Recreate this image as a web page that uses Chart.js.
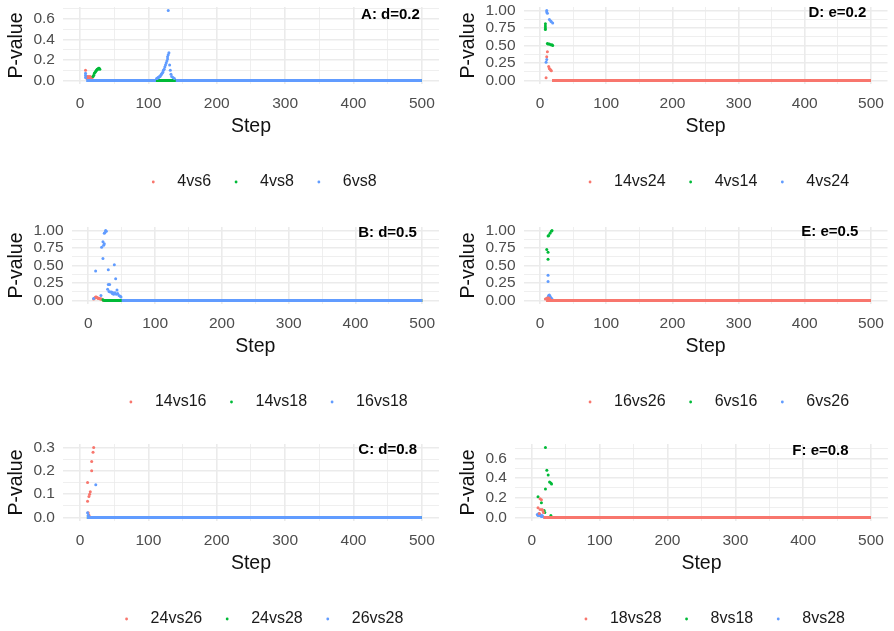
<!DOCTYPE html>
<html>
<head>
<meta charset="utf-8">
<script src="https://cdn.jsdelivr.net/npm/chart.js@4.4.1/dist/chart.umd.min.js"></script>
<style>
  html, body { margin: 0; padding: 0; background: #fff; overflow: hidden; width: 894px; height: 631px; }
  .panel { position: absolute; width: 447px; height: 202px; }
  .panel canvas { display: block; }
</style>
</head>
<body>
<div class="panel" style="left:0;top:-2px"><canvas id="chartA" width="447" height="202"></canvas></div>
<div class="panel" style="left:447px;top:-2px"><canvas id="chartD" width="447" height="202"></canvas></div>
<div class="panel" style="left:0;top:218px"><canvas id="chartB" width="447" height="202"></canvas></div>
<div class="panel" style="left:447px;top:218px"><canvas id="chartE" width="447" height="202"></canvas></div>
<div class="panel" style="left:0;top:435px"><canvas id="chartC" width="447" height="202"></canvas></div>
<div class="panel" style="left:447px;top:435px"><canvas id="chartF" width="447" height="202"></canvas></div>
<script>
const COLORS = ['#F8766D', '#00BA38', '#619CFF'];

const xTicks = [0, 100, 200, 300, 400, 500];
const xLabels = ['0', '100', '200', '300', '400', '500'];
const xMinor = [50, 150, 250, 350, 450];

const yTicksUnit = [0, 0.25, 0.5, 0.75, 1];
const yLabelsUnit = ['0.00', '0.25', '0.50', '0.75', '1.00'];
const yMinorUnit = [0.125, 0.375, 0.625, 0.875];

const yTicksSix = [0, 0.2, 0.4, 0.6];
const yLabelsSix = ['0.0', '0.2', '0.4', '0.6'];
const yMinorSix = [0.1, 0.3, 0.5, 0.7];

const yTicksThree = [0, 0.1, 0.2, 0.3];
const yLabelsThree = ['0.0', '0.1', '0.2', '0.3'];
const yMinorThree = [0.05, 0.15, 0.25];

// points are [step, p-value]; zero runs are [first step, last step] where p sits at 0
// A: d=0.2
const namesA = ['4vs6', '4vs8', '6vs8'];
const pointsA = [
    [[8,0.10],[9,0.04],[10,0.03],[10,0.02],[11,0.04],[12,0.03],[12,0.02],[13,0.04],[14,0.03],[14,0.02],[15,0.04],[16,0.03],[16,0.02],[17,0.03],[18,0.03]],
    [[19,0.04],[20,0.05],[21,0.07],[22,0.08],[23,0.09],[24,0.10],[25,0.11],[26,0.11],[27,0.12],[28,0.12],[29,0.11]],
    [[8,0.07],[8,0.05],[8,0.03],[112,0.02],[113,0.02],[114,0.03],[115,0.03],[116,0.04],[117,0.04],[118,0.05],[119,0.06],[120,0.07],[121,0.08],[122,0.10],[123,0.11],[124,0.13],[125,0.15],[126,0.17],[127,0.19],[128,0.21],[128,0.23],[129,0.25],[130,0.27],[129,0.68],[131,0.15],[132,0.10],[133,0.06],[134,0.04],[136,0.03],[138,0.02]]
];
const zeroA = [[[19, 500]], [[30, 500]], [[9, 111], [140, 500]]];

// B: d=0.5
const namesB = ['14vs16', '14vs18', '16vs18'];
const pointsB = [
    [[8,0.02],[9,0.03],[10,0.04],[11,0.05],[12,0.05],[13,0.04],[14,0.04],[15,0.03],[16,0.03],[17,0.03],[18,0.02],[19,0.02],[20,0.02]],
    [[22,0.01],[23,0.005]],
    [[8,0.03],[11,0.42],[19,0.07],[20,0.76],[22,0.84],[22,0.60],[23,0.79],[24,0.81],[24,0.96],[25,0.97],[26,1.00],[27,0.99],[29,0.16],[30,0.23],[30,0.44],[31,0.13],[32,0.23],[33,0.12],[35,0.12],[36,0.10],[37,0.11],[38,0.09],[39,0.51],[40,0.11],[41,0.31],[42,0.09],[43,0.15],[44,0.10],[46,0.07],[48,0.06],[49,0.05]]
];
const zeroB = [[[21, 500]], [[23, 500]], [[50, 500]]];

// C: d=0.8
const namesC = ['24vs26', '24vs28', '26vs28'];
const pointsC = [
    [[11,0.15],[11,0.07],[12,0.02],[13,0.09],[13,0.01],[14,0.10],[15,0.11],[17,0.20],[17,0.24],[19,0.28],[20,0.30]],
    [],
    [[11,0.02],[12,0.01],[23,0.14]]
];
const zeroC = [[[14, 500]], [[10, 500]], [[10, 500]]];

// D: e=0.2
const namesD = ['14vs24', '4vs14', '4vs24'];
const pointsD = [
    [[9,0.04],[10,0.34],[11,0.41],[13,0.20],[14,0.17],[15,0.16],[16,0.15],[17,0.14]],
    [[8,0.81],[8,0.78],[8,0.75],[8,0.73],[11,0.53],[12,0.52],[14,0.52],[16,0.51],[18,0.51],[19,0.50]],
    [[9,0.26],[10,0.30],[10,1.00],[10,0.98],[11,0.96],[14,0.87],[16,0.85],[17,0.84],[19,0.82]]
];
const zeroD = [[[18, 500]], [[20, 500]], [[20, 500]]];

// E: e=0.5
const namesE = ['16vs26', '6vs16', '6vs26'];
const pointsE = [
    [[8,0.02],[10,0.03],[12,0.04],[14,0.03]],
    [[10,0.73],[12,0.92],[12,0.69],[12,0.59],[13,0.93],[15,0.96],[17,0.99],[18,1.00]],
    [[12,0.36],[12,0.27],[10,0.03],[12,0.05],[13,0.07],[14,0.08],[15,0.06],[16,0.04],[17,0.03],[18,0.02]]
];
const zeroE = [[[9, 500]], [[19, 500]], [[19, 500]]];

// F: e=0.8
const namesF = ['18vs28', '8vs18', '8vs28'];
const pointsF = [
    [[9,0.10],[11,0.04],[12,0.08],[12,0.19],[14,0.18],[15,0.08],[16,0.07],[17,0.05]],
    [[9,0.21],[14,0.15],[18,0.07],[19,0.05],[20,0.71],[20,0.29],[22,0.48],[24,0.43],[26,0.36],[28,0.35],[29,0.34],[28,0.02]],
    [[8,0.03],[9,0.02],[10,0.04],[11,0.02],[12,0.03],[13,0.02],[14,0.01],[15,0.02],[16,0.01]]
];
const zeroF = [[[17, 500]], [[30, 500]], [[17, 500]]];

Chart.defaults.font.family = '"Liberation Sans", Arial, Helvetica, sans-serif';

const panels = [
    { id: 'chartA', tag: 'A: d=0.2', tagAt: [497, 0.64], names: namesA, points: pointsA, zero: zeroA,
      yTicks: yTicksSix, yLabels: yLabelsSix, yMinor: yMinorSix, order: [2, 1, 0], pad: [0, 8] },
    { id: 'chartB', tag: 'B: d=0.5', tagAt: [492, 0.96], names: namesB, points: pointsB, zero: zeroB,
      yTicks: yTicksUnit, yLabels: yLabelsUnit, yMinor: yMinorUnit, order: [2, 1, 0], pad: [0, 8] },
    { id: 'chartC', tag: 'C: d=0.8', tagAt: [493, 0.29], names: namesC, points: pointsC, zero: zeroC,
      yTicks: yTicksThree, yLabels: yLabelsThree, yMinor: yMinorThree, order: [2, 1, 0], pad: [0, 8] },
    { id: 'chartD', tag: 'D: e=0.2', tagAt: [493, 0.97], names: namesD, points: pointsD, zero: zeroD,
      yTicks: yTicksUnit, yLabels: yLabelsUnit, yMinor: yMinorUnit, order: [0, 1, 2], pad: [5, 2] },
    { id: 'chartE', tag: 'E: e=0.5', tagAt: [481, 0.985], names: namesE, points: pointsE, zero: zeroE,
      yTicks: yTicksUnit, yLabels: yLabelsUnit, yMinor: yMinorUnit, order: [0, 1, 2], pad: [5, 2] },
    { id: 'chartF', tag: 'F: e=0.8', tagAt: [467, 0.68], names: namesF, points: pointsF, zero: zeroF,
      yTicks: yTicksSix, yLabels: yLabelsSix, yMinor: yMinorSix, order: [0, 2, 1], pad: [5, 2] }
];

const panelTag = {
    id: 'panelTag',
    afterDatasetsDraw(chart, args, opts) {
        const ctx = chart.ctx;
        const x = chart.scales.x.getPixelForValue(opts.at[0]);
        const y = chart.scales.y.getPixelForValue(opts.at[1]);
        ctx.save();
        ctx.font = 'bold 15px "Liberation Sans", Arial, sans-serif';
        ctx.fillStyle = '#000';
        ctx.textAlign = 'right';
        ctx.textBaseline = 'middle';
        ctx.fillText(opts.text, x, y);
        ctx.restore();
    }
};

// ggplot centres the legend a little right of the panel
const legendNudge = {
    id: 'legendNudge',
    afterLayout(chart, args, opts) {
        chart.legend.left += opts.dx;
        chart.legend.right += opts.dx;
    }
};

function tickList(major, minor) {
    return major.concat(minor).sort((a, b) => a - b).map(v => ({ value: v }));
}

function buildChart(p) {
    const datasets = [];
    p.names.forEach((name, i) => {
        datasets.push({
            label: name,
            data: p.points[i].map(d => ({ x: d[0], y: d[1] })),
            backgroundColor: COLORS[i],
            borderColor: COLORS[i],
            pointRadius: 1.5,
            pointBorderWidth: 0,
            pointHoverRadius: 0,
            showLine: false,
            order: p.order[i]
        });
        p.zero[i].forEach(run => {
            datasets.push({
                label: name,
                data: [{ x: run[0], y: 0 }, { x: run[1], y: 0 }],
                borderColor: COLORS[i],
                backgroundColor: COLORS[i],
                borderWidth: 3,
                pointRadius: 0,
                showLine: true,
                order: p.order[i]
            });
        });
    });

    // ggplot style 5% expansion around the data
    let maxP = 0;
    p.points.forEach(s => s.forEach(d => { if (d[1] > maxP) maxP = d[1]; }));
    const yMin = -0.05 * maxP;
    const yMax = 1.05 * maxP;

    const gridWidth = major => ctx => major.includes(ctx.tick.value) ? 1.6 : 0.8;

    return new Chart(document.getElementById(p.id), {
        type: 'scatter',
        data: { datasets: datasets },
        options: {
            responsive: false,
            animation: false,
            events: [],
            layout: {
                autoPadding: false,
                padding: { top: 9, bottom: 0, left: p.pad[0], right: p.pad[1] }
            },
            scales: {
                x: {
                    type: 'linear',
                    min: -25,
                    max: 525,
                    afterBuildTicks: s => { s.ticks = tickList(xTicks, xMinor); },
                    ticks: {
                        autoSkip: false,
                        maxRotation: 0,
                        padding: 10,
                        color: '#4D4D4D',
                        font: { size: 15.5 },
                        callback: v => { const k = xTicks.indexOf(v); return k < 0 ? '' : xLabels[k]; }
                    },
                    grid: { color: '#EBEBEB', lineWidth: gridWidth(xTicks), drawTicks: false },
                    border: { display: false },
                    title: { display: true, text: 'Step', color: '#111', font: { size: 19.5 }, padding: { top: -8, bottom: 19 } }
                },
                y: {
                    min: yMin,
                    max: yMax,
                    afterBuildTicks: s => { s.ticks = tickList(p.yTicks, p.yMinor); },
                    ticks: {
                        autoSkip: false,
                        padding: 8,
                        color: '#4D4D4D',
                        font: { size: 15.5, lineHeight: 0.1 },
                        callback: v => { const k = p.yTicks.indexOf(v); return k < 0 ? '' : p.yLabels[k]; }
                    },
                    grid: { color: '#EBEBEB', lineWidth: gridWidth(p.yTicks), drawTicks: false },
                    border: { display: false },
                    title: { display: true, text: 'P-value', color: '#111', font: { size: 19.5 }, padding: { top: 5, bottom: -3 } }
                }
            },
            plugins: {
                tooltip: { enabled: false },
                panelTag: { text: p.tag, at: p.tagAt },
                legendNudge: { dx: 10 },
                legend: {
                    position: 'bottom',
                    fullSize: false,
                    labels: {
                        usePointStyle: true,
                        boxHeight: 2,
                        padding: 17,
                        color: '#1A1A1A',
                        font: { size: 16 },
                        generateLabels: () => p.names.map((n, i) => ({
                            text: '\u2002' + n,
                            fillStyle: COLORS[i],
                            strokeStyle: COLORS[i],
                            fontColor: '#1A1A1A',
                            lineWidth: 0,
                            pointStyle: 'circle',
                            hidden: false,
                            datasetIndex: i
                        }))
                    }
                }
            }
        },
        plugins: [panelTag, legendNudge]
    });
}

panels.forEach(buildChart);
</script>
</body>
</html>
